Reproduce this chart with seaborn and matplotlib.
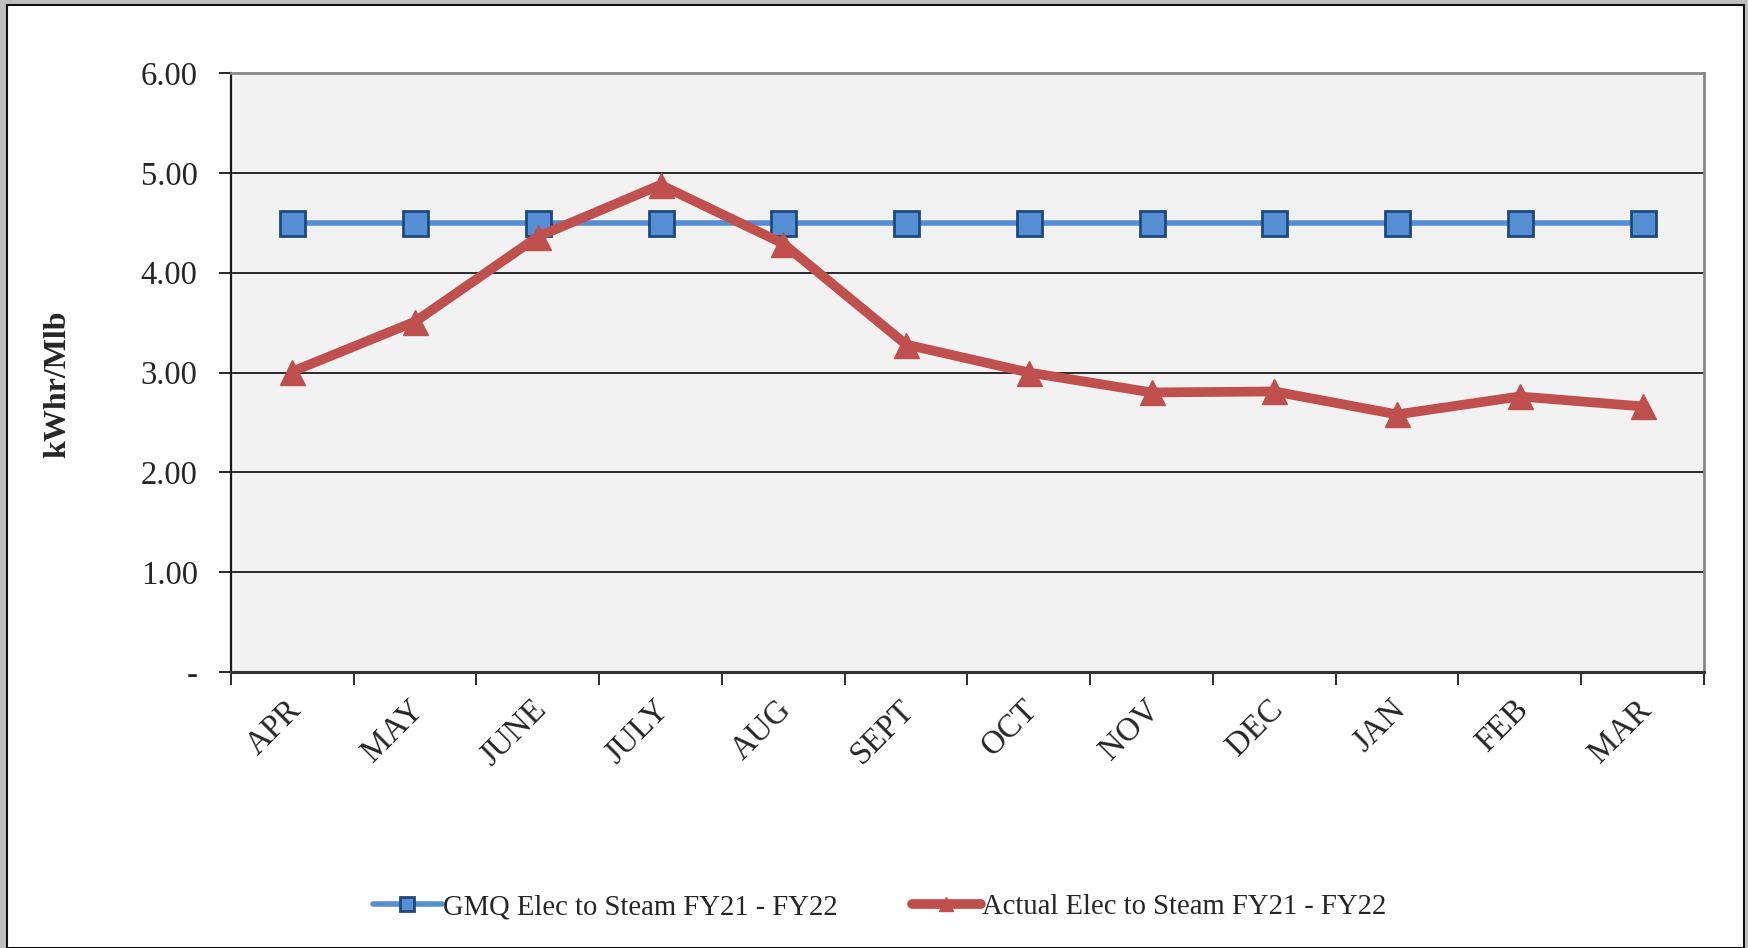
import matplotlib
matplotlib.use("Agg")
import matplotlib.pyplot as plt
import matplotlib.transforms as mtransforms
from matplotlib.patches import Rectangle
from matplotlib.lines import Line2D
import seaborn as sns
import pandas as pd
import numpy as np

months = ["APR", "MAY", "JUNE", "JULY", "AUG", "SEPT", "OCT", "NOV", "DEC", "JAN", "FEB", "MAR"]
gmq = [4.50, 4.50, 4.50, 4.50, 4.50, 4.50, 4.50, 4.50, 4.50, 4.50, 4.50, 4.50]
actual = [3.01, 3.51, 4.36, 4.88, 4.29, 3.28, 3.00, 2.80, 2.81, 2.58, 2.76, 2.66]
gmq_label = "GMQ Elec to Steam FY21 - FY22"
actual_label = "Actual Elec to Steam FY21 - FY22"
ytick_vals = [0, 1, 2, 3, 4, 5, 6]
ytick_labels = ["-", "1.00", "2.00", "3.00", "4.00", "5.00", "6.00"]
ylabel = "kWhr/Mlb"

sns.set_theme(style="white")
plt.rcParams['font.family'] = ['Liberation Serif', 'DejaVu Serif']

W, H = 1749, 948
fig = plt.figure(figsize=(W / 100, H / 100), dpi=100)
fig.patch.set_facecolor("#BEBEBE")
fig.patches.append(Rectangle((7 / W, 0), (1744 - 7) / W, (948 - 5) / H, transform=fig.transFigure,
                             facecolor="white", edgecolor="#111111", linewidth=1.5, zorder=-10))

ax = fig.add_axes([231 / W, 1 - 672 / H, (1704 - 231) / W, (672 - 73) / H])
ax.set_facecolor("#F2F2F2")

df = pd.DataFrame({"month": months, "gmq": gmq, "actual": actual})
df["pos"] = np.arange(len(months))

blue = "#558ED5"
blue_edge = "#1F497D"
red = "#C0504D"

for y in ytick_vals[1:]:
    ax.axhline(y, color="#1A1A1A", linewidth=1.3, zorder=1)

sns.lineplot(data=df, x="pos", y="gmq", ax=ax, color=blue, linewidth=4, marker="s",
             markersize=18, markerfacecolor=blue, markeredgecolor=blue_edge, markeredgewidth=2,
             zorder=3, legend=False)
sns.lineplot(data=df, x="pos", y="actual", ax=ax, color=red, linewidth=7, marker="^",
             markersize=18, markerfacecolor=red, markeredgecolor=red, markeredgewidth=1,
             zorder=4, legend=False)

ax.set_xlim(-0.5, len(months) - 0.5)
ax.set_ylim(0, 6)

ax.set_xticks(np.arange(len(months) + 1) - 0.5)
ax.set_xticklabels([])
ax.set_xticks(np.arange(len(months)), minor=True)
ax.set_xticklabels(months, minor=True, rotation=45, ha="right", va="top",
                   rotation_mode="anchor", fontsize=23.5)
ax.tick_params(axis="x", which="major", length=9, width=1.3, color="#1A1A1A", direction="out", bottom=True)
ax.tick_params(axis="x", which="minor", length=0, pad=16)
offset = mtransforms.ScaledTranslation(-7 / 100, 0, fig.dpi_scale_trans)
for lbl in ax.get_xticklabels(minor=True):
    lbl.set_transform(lbl.get_transform() + offset)

ax.set_yticks(ytick_vals)
ax.set_yticklabels(ytick_labels, fontsize=23.5)
ax.tick_params(axis="y", length=9, width=1.3, color="#1A1A1A", direction="out", left=True, pad=15)

ax.set_xlabel("")
ax.set_ylabel(ylabel, fontsize=23, fontweight="bold")
ax.yaxis.set_label_coords(-0.108, 0.48)

ax.spines["left"].set_color("#1A1A1A")
ax.spines["left"].set_linewidth(1.6)
ax.spines["bottom"].set_color("#333333")
ax.spines["bottom"].set_linewidth(2.2)
for s in ["top", "right"]:
    ax.spines[s].set_color("#888888")
    ax.spines[s].set_linewidth(2)

handles = [
    Line2D([], [], color=blue, linewidth=4, marker="s", markersize=10,
           markerfacecolor=blue, markeredgecolor=blue_edge, markeredgewidth=2),
    Line2D([], [], color=red, linewidth=7, marker="^", markersize=10,
           markerfacecolor=red, markeredgecolor=red),
]
fig.legend(handles, [gmq_label, actual_label], loc="center", bbox_to_anchor=(0.503, 1 - 907 / H),
           ncol=2, frameon=False, fontsize=20.6, handlelength=2.4, handletextpad=0.05,
           columnspacing=2.6, numpoints=1)

fig.savefig("out.png", dpi=100, facecolor=fig.get_facecolor())
